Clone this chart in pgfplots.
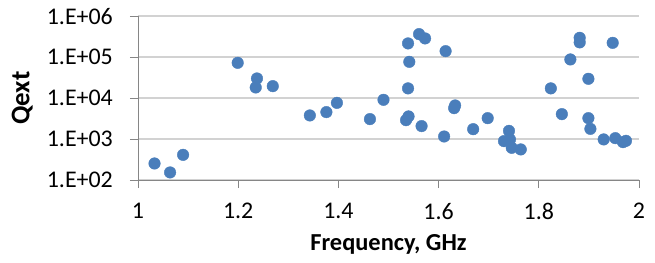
\documentclass[border=0pt]{standalone}
\usepackage{pgfplots}
\pgfplotsset{compat=1.18}
\usepackage{fontspec}
\setmainfont{Carlito}
\definecolor{excelblue}{RGB}{74,126,187}
\definecolor{axgray}{RGB}{134,134,134}
\definecolor{gridgray}{RGB}{195,195,195}
\definecolor{majgray}{RGB}{210,210,210}
\begin{document}
\fontsize{24}{28}\selectfont
\begin{tikzpicture}
\begin{axis}[
  at={(0,0)}, anchor=south west,
  scale only axis, width=501bp, height=164bp,
  xmin=1, xmax=2, ymin=100, ymax=1000000,
  ymode=log, log basis y=10,
  axis x line=bottom, axis y line=left,
  axis line style={-, axgray, line width=0.8bp},
  xtick={1,1.2,1.4,1.6,1.8,2},
  xticklabels={1,1.2,1.4,1.6,1.8,2},
  ytick={100,1000,10000,100000,1000000},
  yticklabels={1.E+02,1.E+03,1.E+04,1.E+05,1.E+06},
  tick align=outside,
  major tick length=8bp, minor tick length=0pt,
  tick style={axgray, line width=0.8bp},
  ymajorgrids=true, yminorgrids=true, xmajorgrids=false,
  major grid style={majgray, line width=1.8bp},
  minor grid style={gridgray, line width=0.7bp},
  xticklabel style={font=\fontsize{24}{28}\selectfont, yshift=-7bp},
  yticklabel style={font=\fontsize{24}{28}\selectfont, xshift=-9bp},
  xlabel={\textbf{Frequency, GHz}},
  ylabel={\textbf{Qext}},
  xlabel style={font=\fontsize{24.5}{29}\selectfont, yshift=1bp},
  ylabel style={font=\fontsize{27}{31}\selectfont, yshift=-2bp},
  clip=false,
]
\addplot[only marks, mark=*, mark size=5.8bp, mark options={fill=excelblue, draw=excelblue}] coordinates {
(1.033,255) (1.064,154) (1.090,414)
(1.199,72600) (1.2375,30200) (1.235,18200) (1.269,19600)
(1.343,3780) (1.376,4560) (1.397,7680) (1.463,3080) (1.490,9100)
(1.539,216000) (1.561,364000) (1.573,286000) (1.5415,76800) (1.539,17300)
(1.540,3580) (1.535,2900) (1.566,2080)
(1.614,140000) (1.611,1160) (1.633,6630) (1.631,5700)
(1.669,1750) (1.698,3250)
(1.7405,1590) (1.7305,894) (1.7425,984) (1.746,614) (1.764,561)
(1.824,17300) (1.846,4070) (1.863,87900) (1.8816,296000) (1.8816,229000)
(1.899,29600) (1.899,3250) (1.903,1780)
(1.9475,223000) (1.9295,984) (1.9527,1057) (1.968,845) (1.974,910)
};
\end{axis}
\path[use as bounding box] (-138bp,-80bp) rectangle (517bp,180bp);
\end{tikzpicture}
\end{document}
